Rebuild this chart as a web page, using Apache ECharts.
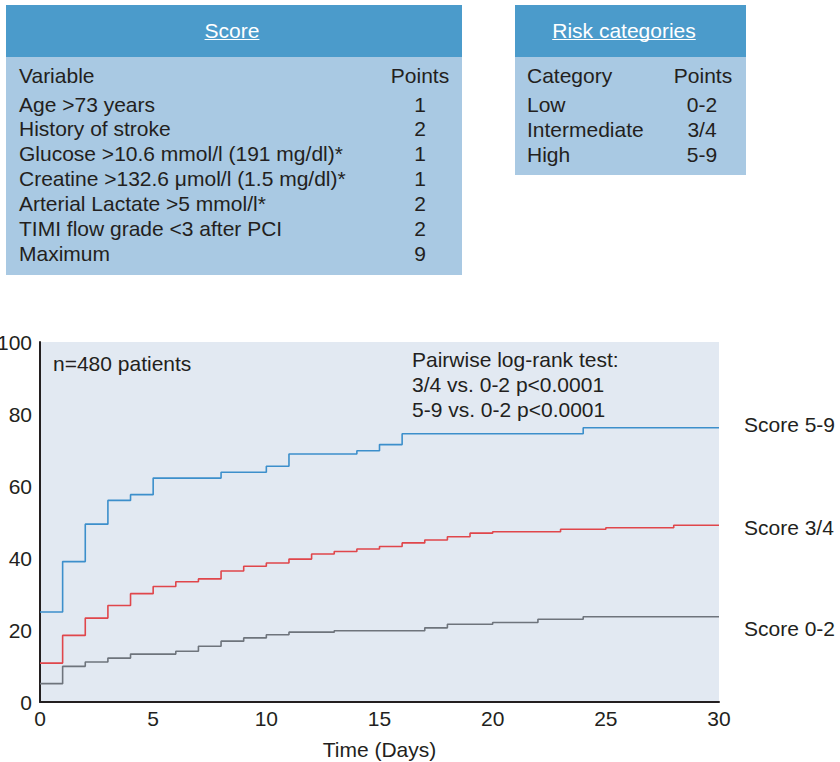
<!DOCTYPE html>
<html>
<head>
<meta charset="utf-8">
<script src="https://cdn.jsdelivr.net/npm/echarts@6/dist/echarts.min.js"></script>
<style>
  html, body { margin: 0; padding: 0; background: #ffffff; }
  #chart { width: 840px; height: 762px; }
</style>
</head>
<body>
<div id="chart"></div>
<script>
// ---- Score table ----
const scoreTitle = 'Score';
const scoreHeader = ['Variable', 'Points'];
const scoreVariables = [
  'Age >73 years',
  'History of stroke',
  'Glucose >10.6 mmol/l (191 mg/dl)*',
  'Creatine >132.6 \u03bcmol/l (1.5 mg/dl)*',
  'Arterial Lactate >5 mmol/l*',
  'TIMI flow grade <3 after PCI',
  'Maximum'
];
const scorePoints = ['1', '2', '1', '1', '2', '2', '9'];

// ---- Risk categories table ----
const riskTitle = 'Risk categories';
const riskHeader = ['Category', 'Points'];
const riskCategories = ['Low', 'Intermediate', 'High'];
const riskPoints = ['0-2', '3/4', '5-9'];

// ---- Cumulative event curves (day the step starts, value from then on) ----
const highDays   = [0, 1, 2, 3, 4, 5, 8, 10, 11, 14, 15, 16, 24, 30];
const highValues = [25, 39, 49.4, 56, 57.6, 62.2, 63.8, 65.5, 68.9, 69.8, 71.5, 74.5, 76.2, 76.2];

const midDays   = [0, 1, 2, 3, 4, 5, 6, 7, 8, 9, 10, 11, 12, 13, 14, 15, 16, 17, 18, 19, 20, 23, 25, 28, 30];
const midValues = [10.8, 18.5, 23.3, 26.8, 30.1, 32.1, 33.4, 34.2, 36.4, 37.7, 38.6, 39.7, 41.1, 41.8, 42.5, 43.2, 44.2, 45, 45.9, 46.9, 47.3, 48, 48.4, 49.1, 49.1];

const lowDays   = [0, 1, 2, 3, 4, 6, 7, 8, 9, 10, 11, 13, 17, 18, 20, 22, 24, 30];
const lowValues = [5.1, 9.9, 11.1, 12.2, 13.3, 14.1, 15.5, 16.9, 17.8, 18.7, 19.4, 19.8, 20.6, 21.6, 22.1, 23.0, 23.7, 23.7];

const seriesNames = ['Score 5-9', 'Score 3/4', 'Score 0-2'];

const xTicks = [0, 5, 10, 15, 20, 25, 30];
const yTicks = [0, 20, 40, 60, 80, 100];
const xAxisTitle = 'Time (Days)';
const patientNote = 'n=480 patients';
const testNotes = ['Pairwise log-rank test:', '3/4 vs. 0-2 p<0.0001', '5-9 vs. 0-2 p<0.0001'];

// ---- styling ----
const FONT = 'Liberation Sans, Arial, Helvetica, sans-serif';
const FS = 21;
const INK = '#231f20';
const HEAD_BG = '#4b9bcb';
const BODY_BG = '#a9c9e3';
const PLOT_BG = '#e2e9f2';
const COLORS = ['#3c8fcb', '#e0464b', '#6e747c'];

function pairs(days, values) {
  return days.map((d, i) => [d, values[i]]);
}

function textWidth(str, size) {
  const c = document.createElement('canvas').getContext('2d');
  c.font = size + 'px ' + FONT;
  return c.measureText(str).width;
}

function txt(str, x, y, align, color) {
  return {
    type: 'text',
    silent: true,
    style: {
      text: str, x: x, y: y,
      fill: color || INK,
      font: FS + 'px ' + FONT,
      align: align || 'left', verticalAlign: 'middle',
      textAlign: align || 'left', textVerticalAlign: 'middle'
    }
  };
}

function titleWithUnderline(str, cx, cy) {
  const w = textWidth(str, FS);
  return [
    txt(str, cx, cy, 'center', '#ffffff'),
    { type: 'line', silent: true,
      shape: { x1: cx - w / 2, y1: cy + 9.5, x2: cx + w / 2, y2: cy + 9.5 },
      style: { stroke: '#ffffff', lineWidth: 1 } }
  ];
}

const graphics = [];
// Score table boxes
graphics.push({ type: 'rect', silent: true, shape: { x: 6, y: 5, width: 456, height: 52 }, style: { fill: HEAD_BG } });
graphics.push({ type: 'rect', silent: true, shape: { x: 6, y: 57, width: 456, height: 218 }, style: { fill: BODY_BG } });
graphics.push(...titleWithUnderline(scoreTitle, 232, 30));
graphics.push(txt(scoreHeader[0], 19, 75, 'left'));
graphics.push(txt(scoreHeader[1], 420, 75, 'center'));
scoreVariables.forEach((v, i) => {
  const y = 104 + i * 24.9;
  graphics.push(txt(v, 19, y, 'left'));
  graphics.push(txt(scorePoints[i], 420, y, 'center'));
});

// Risk categories table boxes
graphics.push({ type: 'rect', silent: true, shape: { x: 515, y: 5, width: 231, height: 52 }, style: { fill: HEAD_BG } });
graphics.push({ type: 'rect', silent: true, shape: { x: 515, y: 57, width: 231, height: 118 }, style: { fill: BODY_BG } });
graphics.push(...titleWithUnderline(riskTitle, 624, 30));
graphics.push(txt(riskHeader[0], 527, 75, 'left'));
graphics.push(txt(riskHeader[1], 703, 75, 'center'));
riskCategories.forEach((c, i) => {
  const y = 104 + i * 25;
  graphics.push(txt(c, 527, y, 'left'));
  graphics.push(txt(riskPoints[i], 702, y, 'center'));
});

// Plot annotations
graphics.push(txt(patientNote, 53, 363, 'left'));
testNotes.forEach((t, i) => {
  graphics.push(txt(t, 412, 359 + i * 25, 'left'));
});

const chart = echarts.init(document.getElementById('chart'), null, { renderer: 'svg' });

function stepSeries(name, days, values, color, labelOffsetY) {
  return {
    name: name,
    type: 'line',
    step: 'end',
    data: pairs(days, values),
    showSymbol: false,
    symbol: 'none',
    lineStyle: { color: color, width: 1.6 },
    itemStyle: { color: color },
    emphasis: { disabled: true },
    endLabel: {
      show: true,
      formatter: name,
      color: INK,
      fontSize: FS,
      fontFamily: FONT,
      distance: 25,
      offset: [0, labelOffsetY]
    }
  };
}

chart.setOption({
  animation: false,
  backgroundColor: '#ffffff',
  textStyle: { fontFamily: FONT },
  grid: {
    left: 40, top: 342, right: 121, bottom: 60,
    outerBoundsMode: 'none',
    containLabel: false,
    show: true, backgroundColor: PLOT_BG, borderWidth: 0
  },
  xAxis: {
    type: 'value',
    min: 0, max: 30, interval: 5,
    name: xAxisTitle,
    nameLocation: 'middle',
    nameGap: 37,
    nameTextStyle: { color: INK, fontSize: FS, fontFamily: FONT },
    axisLine: { show: true, lineStyle: { color: '#231f20', width: 2 } },
    axisTick: { show: false },
    splitLine: { show: false },
    axisLabel: {
      color: INK, fontSize: FS, fontFamily: FONT, margin: 6,
      customValues: xTicks
    }
  },
  yAxis: {
    type: 'value',
    min: 0, max: 100, interval: 20,
    axisLine: { show: true, lineStyle: { color: '#231f20', width: 2 } },
    axisTick: { show: false },
    splitLine: { show: false },
    axisLabel: {
      color: INK, fontSize: FS, fontFamily: FONT, margin: 8,
      customValues: yTicks
    }
  },
  series: [
    stepSeries(seriesNames[0], highDays, highValues, COLORS[0], -3),
    stepSeries(seriesNames[1], midDays, midValues, COLORS[1], 2),
    stepSeries(seriesNames[2], lowDays, lowValues, COLORS[2], 12)
  ],
  graphic: { elements: graphics }
});
</script>
</body>
</html>
